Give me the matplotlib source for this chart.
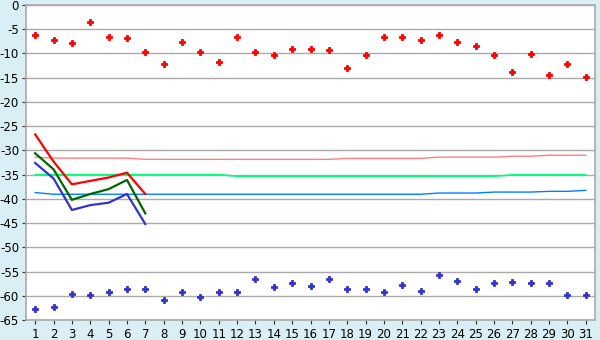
import numpy as np
import matplotlib.pyplot as plt

days = np.arange(1, 32)

# daily scatter values
red_pts = [-6.25, -7.3, -7.9, -3.6, -6.7, -6.9, -9.8, -12.2, -7.7, -9.8,
           -11.8, -6.7, -9.6, -10.4, -9.1, -9.1, -9.35, -13.1, -10.4, -6.5,
           -6.5, -7.3, -6.25, -7.7, -8.5, -10.4, -13.9, -10.2, -14.5, -12.2, -14.9]
blue_pts = [-62.8, -62.25, -59.7, -59.9, -59.3, -58.5, -58.5, -60.9, -59.3, -60.3,
            -59.3, -59.3, -56.6, -58.25, -57.4, -58.05, -56.6, -58.5, -58.5, -59.3,
            -57.85, -59.1, -55.8, -57.0, -58.5, -57.4, -57.2, -57.4, -57.4, -59.9, -59.9]

# first week lines
wk_days = np.arange(1, 8)
red_line = [-26.7, -32.3, -37.0, -36.3, -35.6, -34.6, -39.0]
green_line = [-30.6, -33.9, -40.2, -39.0, -38.0, -36.1, -43.0]
blue_line = [-32.6, -35.8, -42.3, -41.3, -40.8, -39.0, -45.2]

# near-flat reference lines
pink_ref = [-31.4] + [-31.6]*5 + [-31.85]*11 + [-31.65]*5 + [-31.4]*4 + [-31.2]*2 + [-31.0]*3
green_ref = [-35.0]*11 + [-35.35]*15 + [-35.05]*5
blue_ref = [-38.7] + [-39.05]*21 + [-38.8]*3 + [-38.6]*3 + [-38.45]*2 + [-38.25]

bg = '#d9eff5'
fig = plt.figure(figsize=(6, 3.4), dpi=100, facecolor=bg)
ax = fig.add_axes([26/600, 1-320/340, 569/600, 315/340])
ax.set_facecolor('white')

ax.plot(days, pink_ref, color='#ff8080', lw=1)
ax.plot(days, green_ref, color='#00ff80', lw=1.2)
ax.plot(days, blue_ref, color='#0080ff', lw=1)

ax.plot(wk_days, red_line, color='#ff0000', lw=1.6)
ax.plot(wk_days, green_line, color='#006600', lw=1.6)
ax.plot(wk_days, blue_line, color='#3333cc', lw=1.6)

ax.plot(days, red_pts, 'P', color='#ff0000', ms=4.8, mew=0.6, ls='none')
ax.plot(days, blue_pts, 'P', color='#3333cc', ms=4.8, mew=0.6, ls='none')

ax.set_xlim(0.5, 31.5)
ax.set_ylim(-65, 0)
ax.set_xticks(days)
ax.set_xticklabels([str(d) for d in days])
yt = np.arange(-65, 1, 5)
ax.set_yticks(yt)
ax.set_yticklabels([str(v) for v in yt])
ax.yaxis.grid(True, color='#aaaaaa', lw=1)
ax.set_axisbelow(True)
ax.tick_params(labelsize=8.5, length=3, color='#333333', pad=2)
ax.tick_params(axis='x', pad=3)
for s in ax.spines.values():
    s.set_color('#aaaaaa')
    s.set_linewidth(1.2)

fig.savefig('out.png', dpi=100, facecolor=bg)
